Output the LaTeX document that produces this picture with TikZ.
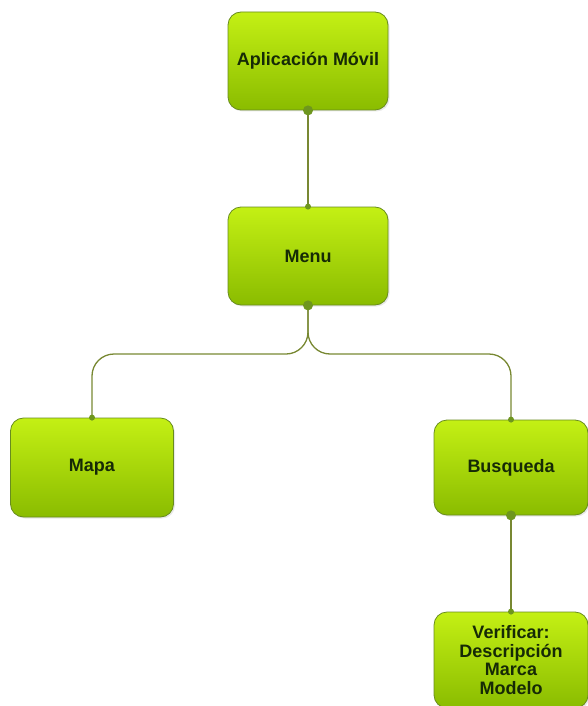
\documentclass[tikz,border=0pt]{standalone}
\usepackage{fontspec}
\setmainfont{Liberation Sans}
\usetikzlibrary{shadows}
\definecolor{boxtop}{RGB}{196,240,20}
\definecolor{boxbottom}{RGB}{138,188,0}
\definecolor{boxline}{RGB}{104,140,30}
\definecolor{linkline}{RGB}{120,136,50}
\definecolor{dotgreen}{RGB}{110,150,30}
\definecolor{textdark}{RGB}{22,42,6}
\tikzset{
  menubox/.style={draw=boxline, line width=0.8pt, rounded corners=13pt,
    top color=boxtop, bottom color=boxbottom, text=textdark,
    font=\fontsize{18}{18.5}\selectfont\bfseries, align=center,
    drop shadow={opacity=0.18, shadow xshift=1.5pt, shadow yshift=-1.5pt}},
  link/.style={linkline, line width=1.3pt},
  bigdot/.style={dotgreen, radius=5pt},
  smalldot/.style={dotgreen, radius=3pt}
}
\begin{document}
\begin{tikzpicture}[x=1pt, y=-1pt]
\useasboundingbox (0,0) rectangle (588,706);
\node[menubox, minimum width=160pt, minimum height=98pt] (app) at (308, 61) {Aplicación Móvil};
\node[menubox, minimum width=160pt, minimum height=98pt] (menu) at (308, 256) {Menu};
\node[menubox, minimum width=163pt, minimum height=99pt] (mapa) at (92, 467.5) {Mapa};
\node[menubox, minimum width=154pt, minimum height=95pt] (busqueda) at (511, 467.5) {Busqueda};
\node[menubox, minimum width=154pt, minimum height=96pt] (verificar) at (511, 660) {Verificar:\\Descripción\\Marca\\Modelo};
\coordinate (split) at (308, 354);
\draw[link] (app.south) -- (menu.north);
\draw[link, rounded corners=22pt] (menu.south) -- (split) -- (mapa.north |- split) -- (mapa.north);
\draw[link, rounded corners=22pt] (menu.south) -- (split) -- (busqueda.north |- split) -- (busqueda.north);
\draw[link] (busqueda.south) -- (verificar.north);
\fill[bigdot] (app.south) circle;
\fill[bigdot] (menu.south) circle;
\fill[bigdot] (busqueda.south) circle;
\fill[smalldot] (menu.north) circle;
\fill[smalldot] (mapa.north) circle;
\fill[smalldot] (busqueda.north) circle;
\fill[smalldot] (verificar.north) circle;
\end{tikzpicture}
\end{document}
